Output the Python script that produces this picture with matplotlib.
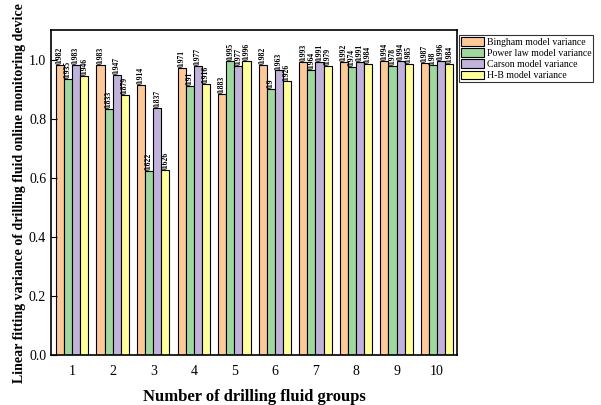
import numpy as np
import matplotlib.pyplot as plt

plt.rcParams['font.family'] = ['Liberation Serif', 'DejaVu Serif']

groups = ['1', '2', '3', '4', '5', '6', '7', '8', '9', '10']
bingham = [0.982, 0.983, 0.914, 0.971, 0.883, 0.982, 0.993, 0.992, 0.994, 0.987]
power_law = [0.935, 0.833, 0.622, 0.91, 0.995, 0.9, 0.964, 0.974, 0.978, 0.98]
carson = [0.983, 0.947, 0.837, 0.977, 0.977, 0.963, 0.991, 0.991, 0.994, 0.996]
hb = [0.946, 0.879, 0.626, 0.916, 0.996, 0.926, 0.979, 0.984, 0.985, 0.984]

series = [
    ('Bingham model variance', bingham, '#fdc998'),
    ('Power law model variance', power_law, '#9fd89f'),
    ('Carson model variance', carson, '#c0b2da'),
    ('H-B model variance', hb, '#ffff9c'),
]

fig = plt.figure(figsize=(6.01, 4.05), dpi=100)
ax = fig.add_axes([0.085, 0.123, 0.676, 0.803])

x = np.arange(1, len(groups) + 1)
w = 0.2
for i, (name, vals, col) in enumerate(series):
    pos = x + (i - 1.5) * w
    ax.bar(pos, vals, w, color=col, edgecolor='black', linewidth=0.8, label=name)
    for p, v in zip(pos, vals):
        ax.text(p, v + 0.003, f'{v:g}', rotation=90, ha='center', va='bottom',
                fontsize=5.5, fontweight='bold')

ax.set_xlim(0.48, 10.5)
ax.set_ylim(0, 1.1)
ax.set_xticks(x)
ax.set_xticklabels(groups)
ax.set_yticks(np.arange(0, 1.01, 0.2))
ax.set_yticklabels([f'{t:.1f}' for t in np.arange(0, 1.01, 0.2)])
ax.tick_params(axis='y', direction='in', length=4, labelsize=10)
ax.tick_params(axis='x', length=0, labelsize=10, pad=7)
for s in ax.spines.values():
    s.set_linewidth(1.2)

ax.set_xlabel('Number of drilling fluid groups', fontsize=12, fontweight='bold',
              labelpad=8)
ax.set_ylabel('Linear fitting variance of drilling fluid online monitoring device',
              fontsize=10, fontweight='bold', labelpad=2)

leg = ax.legend(loc='upper left', bbox_to_anchor=(1.0, 0.99), fontsize=7,
                frameon=True, fancybox=False, edgecolor='black',
                handlelength=2.3, handleheight=1.0, borderpad=0.2,
                labelspacing=0.15, handletextpad=0.3, borderaxespad=0.2)
leg.get_frame().set_linewidth(0.8)

fig.savefig('out.png', dpi=100)
